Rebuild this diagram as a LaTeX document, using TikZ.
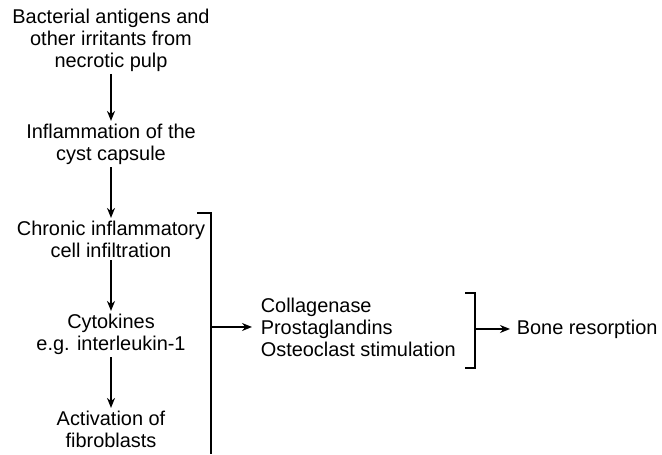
\documentclass[tikz,border=0pt]{standalone}
\usepackage{fontspec}
\setmainfont{Liberation Sans}
\usetikzlibrary{arrows.meta}

\begin{document}
\begin{tikzpicture}[x=1bp,y=1bp,>={Stealth[length=10bp,width=8bp]},line width=1.6bp,
  font=\fontsize{20}{22}\selectfont,
  stage/.style={align=center,inner sep=2bp},
  effect/.style={align=left,inner ysep=2bp,inner xsep=8bp,anchor=west}]
\useasboundingbox (0,0) rectangle (662,455);
% left column
\node[stage] (irritants) at (111,415) {Bacterial antigens and\\other irritants from\\necrotic pulp};
\node[stage] (capsule) at (111,311) {Inflammation of the\\cyst capsule};
\node[stage] (infiltr) at (111,216) {Chronic inflammatory\\cell infiltration};
\node[stage] (cytok) at (111,121) {Cytokines\\e.g. interleukin-1};
\node[stage] (fibro) at (111,26) {Activation of\\fibroblasts};
\draw[->] (irritants) -- (capsule);
\draw[->] (capsule) -- (infiltr);
\draw[->] (infiltr) -- (cytok);
\draw[->] (cytok) -- (fibro);
% first bracket
\coordinate (brA) at (197,242);
\coordinate (brAc) at (211,242);
\coordinate (brAend) at (211,1);
\coordinate (brAmid) at (211,128);
\draw (brA) -- (brAc) -- (brAend);
\node[effect] (mediators) at (252,128) {Collagenase\\Prostaglandins\\Osteoclast stimulation};
\draw[->] (brAmid) -- (mediators);
% second bracket
\coordinate (brBtop) at (465,162);
\coordinate (brBbot) at (465,87);
\coordinate (brBmid) at (475,126);
\draw (brBtop) -| (brBmid) |- (brBbot);
\node[effect,inner xsep=6bp] (bone) at (510,126) {Bone resorption};
\draw[->] (brBmid) -- (bone);
\end{tikzpicture}
\end{document}
